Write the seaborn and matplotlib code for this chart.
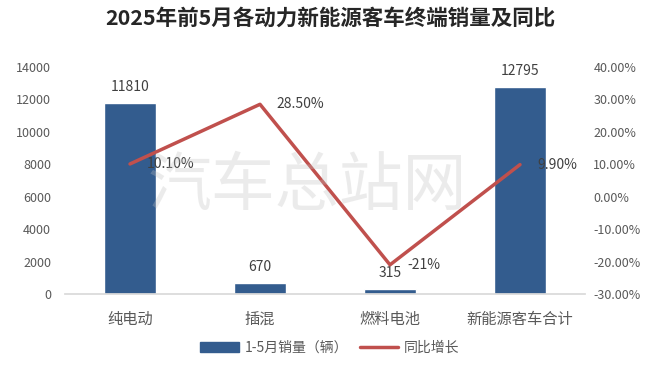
import matplotlib
matplotlib.use("Agg")
import matplotlib.pyplot as plt
import seaborn as sns
import pandas as pd
from matplotlib.patches import Patch
from matplotlib.lines import Line2D

categories = ["纯电动", "插混", "燃料电池", "新能源客车合计"]
sales = [11810, 670, 315, 12795]
growth = [10.10, 28.50, -21.0, 9.90]
growth_labels = ["10.10%", "28.50%", "-21%", "9.90%"]

sns.set_theme(style="white")
plt.rcParams['font.family'] = ['Noto Sans CJK SC', 'DejaVu Sans']

df = pd.DataFrame({"cat": categories, "sales": sales, "growth": growth})

fig = plt.figure(figsize=(6.6, 3.74), dpi=100)
ax = fig.add_axes([65/660, 1 - 294/374, 520/660, 227/374])

bar_color = "#335C8E"
line_color = "#C0504D"
grey = "#595959"

sns.barplot(data=df, x="cat", y="sales", color=bar_color, width=0.4, ax=ax, saturation=1)
ax.set_ylim(0, 14000)
ax.set_yticks(range(0, 14001, 2000))
ax.set_xlim(-0.5, 3.5)
ax.set_xlabel("")
ax.set_ylabel("")
for s in ["top", "right", "left"]:
    ax.spines[s].set_visible(False)
ax.spines["bottom"].set_color("#D9D9D9")
ax.tick_params(axis="y", colors=grey, labelsize=9, length=0, pad=10)
ax.tick_params(axis="x", colors=grey, labelsize=11, length=0, pad=12)

for i, v in enumerate(sales):
    ax.text(i, v + 550, str(v), ha="center", va="bottom", fontsize=10, color="#404040")

ax2 = ax.twinx()
sns.lineplot(data=df, x="cat", y="growth", color=line_color, linewidth=2.5, ax=ax2, sort=False)
ax2.set_ylim(-30, 40)
ax2.set_yticks(range(-30, 41, 10))
ax2.set_yticklabels([f"{t:.2f}%" for t in range(-30, 41, 10)])
ax2.set_ylabel("")
for s in ["top", "right", "left", "bottom"]:
    ax2.spines[s].set_visible(False)
ax2.tick_params(axis="y", colors=grey, labelsize=9, length=0, pad=6)

for i, (g, lab) in enumerate(zip(growth, growth_labels)):
    ax2.text(i + 0.13, g, lab, ha="left", va="center", fontsize=10, color="#404040")

fig.text(0.465, 0.5, "汽车总站网", fontsize=46, color="#BFBFBF", alpha=0.3,
         ha="center", va="center", style="italic", zorder=0)

fig.text(0.5, 0.952, "2025年前5月各动力新能源客车终端销量及同比", ha="center", va="center",
         fontsize=15.5, fontweight="bold", color="#262626")

handles = [Patch(color=bar_color, label="1-5月销量（辆）"),
           Line2D([0], [0], color=line_color, linewidth=2.5, label="同比增长")]
fig.legend(handles=handles, loc="center", bbox_to_anchor=(0.5, 0.07), ncol=2, frameon=False,
           fontsize=10, labelcolor=grey, handlelength=2.8, handleheight=0.7, columnspacing=0.8,
           handletextpad=0.4)

fig.savefig("out.png", dpi=100)
